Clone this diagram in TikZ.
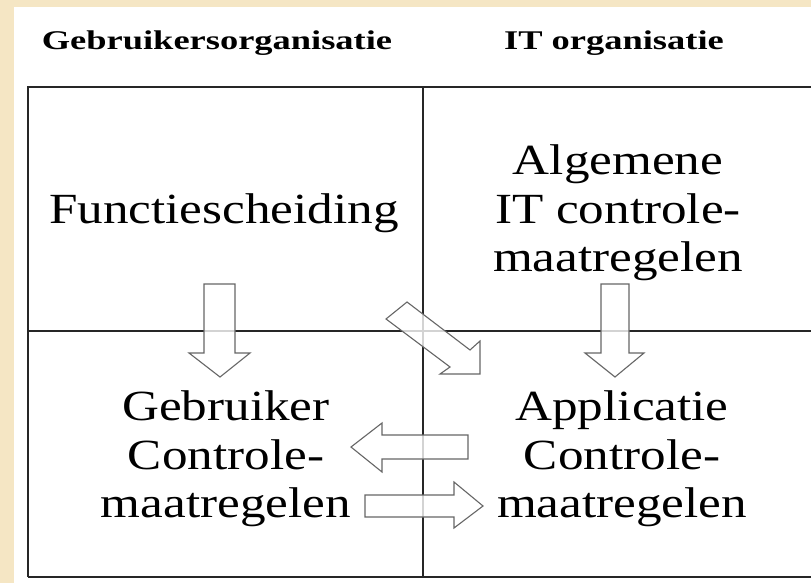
\documentclass[tikz,border=0pt]{standalone}
\usepackage{fontspec}
\setmainfont{Liberation Serif}
\newfontfamily\tekstfont[FakeStretch=1.19]{Liberation Serif}
\newfontfamily\kopfont[FakeStretch=1.35]{Liberation Serif}
\usetikzlibrary{positioning}
\definecolor{beige}{RGB}{245,230,196}

\begin{document}
\begin{tikzpicture}[x=1pt,y=-1pt]
  \tikzset{
    kop/.style={font=\kopfont\bfseries\fontsize{27}{30}\selectfont, inner sep=0pt},
    tekst/.style={font=\tekstfont\fontsize{43}{48.5}\selectfont, align=center, inner sep=0pt},
    rooster/.style={line width=1.3pt, draw=black!85},
    blokpijl/.style={draw=black!60, line width=1.1pt, fill=white, fill opacity=0.8},
  }
  \useasboundingbox (0,0) rectangle (811,583);
  \fill[beige] (0,0) rectangle (811,583);
  \fill[white] (14,7) rectangle (811,583);
  % kolomkoppen
  \node[kop, anchor=base] (kopgeb) at (217,50) {Gebruikersorganisatie};
  \node[kop, anchor=base] (kopit) at (614,50) {IT organisatie};
  % tabel
  \draw[rooster] (28,577) -- (28,87) -- (811,87);
  \draw[rooster] (28,331) -- (811,331);
  \draw[rooster] (28,577) -- (811,577);
  \draw[rooster] (423,87) -- (423,577);
  % vakken
  \node[tekst, anchor=base] (functie) at (224,223) {Functiescheiding};
  \node[tekst] (algemeen) at (618,213) {Algemene\\IT controle-\\maatregelen};
  \node[tekst] (gebruiker) at (226,459) {Gebruiker\\Controle-\\maatregelen};
  \node[tekst] (applicatie) at (622,459) {Applicatie\\Controle-\\maatregelen};
  % pijlen
  \draw[blokpijl] (204,284) -- (235,284) -- (235,353) -- (250,353) -- (220,377) -- (189,353) -- (204,353) -- cycle;
  \draw[blokpijl] (601,284) -- (629,284) -- (629,353) -- (644,353) -- (615,377) -- (585,353) -- (601,353) -- cycle;
  \draw[blokpijl] (407,302) -- (470,350) -- (480,341) -- (480,374) -- (440,374) -- (450,367) -- (386,319) -- cycle;
  \draw[blokpijl] (468,435) -- (382,435) -- (382,423) -- (351,447) -- (382,472) -- (382,459) -- (468,459) -- cycle;
  \draw[blokpijl] (365,495) -- (454,495) -- (454,482) -- (483,506) -- (454,528) -- (454,517) -- (365,517) -- cycle;
\end{tikzpicture}
\end{document}
